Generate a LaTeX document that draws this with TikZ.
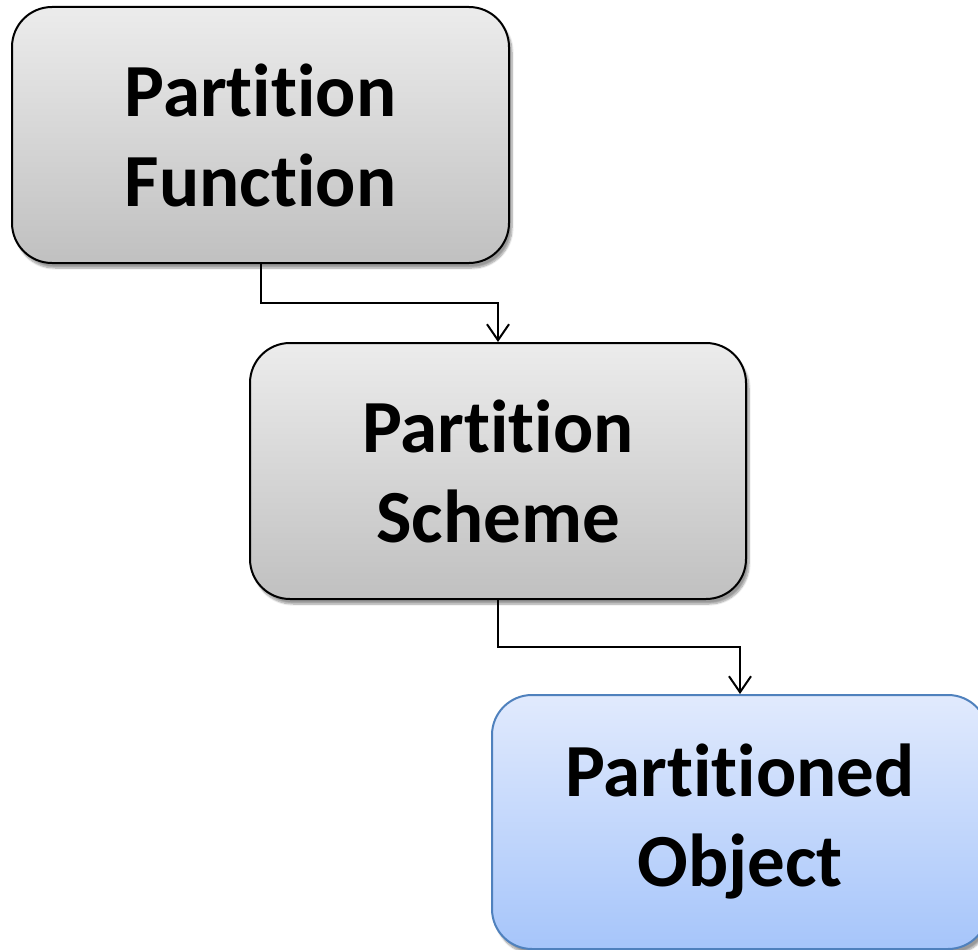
\documentclass[tikz,border=0pt]{standalone}
\usepackage{fontspec}
\setmainfont{Carlito}[Ligatures={NoCommon}]
\usetikzlibrary{arrows.meta,calc,shadows.blur}

\definecolor{graytop}{RGB}{236,236,236}
\definecolor{graybot}{RGB}{192,192,192}
\definecolor{bluetop}{RGB}{225,234,253}
\definecolor{bluebot}{RGB}{166,197,250}
\definecolor{blueedge}{RGB}{79,129,189}

\tikzset{
  stagebox/.style={
    rounded corners=40pt, line width=2pt, align=center,
    font=\fontsize{75pt}{90pt}\selectfont\bfseries,
    inner sep=0pt,
    blur shadow={shadow xshift=3pt, shadow yshift=-5pt, shadow blur steps=8, shadow opacity=40}
  },
  graybox/.style={stagebox, draw=black, top color=graytop, bottom color=graybot},
  bluebox/.style={stagebox, draw=blueedge, top color=bluetop, bottom color=bluebot},
  link/.style={draw=black, line width=2pt, -{Straight Barb[length=16pt,width=22pt,line width=2pt]}}
}

\begin{document}
\begin{tikzpicture}[x=1pt,y=-1pt]
  \useasboundingbox (0,0) rectangle (978,950);
  \clip (0,0) rectangle (978,950);

  \node[graybox, minimum width=497pt, minimum height=256pt] (func) at (260.5,135)
    {Partition\\Function};
  \node[graybox, minimum width=496pt, minimum height=256pt] (scheme) at (498,471)
    {Partition\\Scheme};
  \node[bluebox, minimum width=496pt, minimum height=254pt] (obj) at (740,822)
    {Partitioned\\Object};

  \draw[link] (func.south) |- ($(func.south)!0.5!(scheme.north)$) -| (scheme.north);
  \draw[link] (scheme.south) |- ($(scheme.south)!0.5!(obj.north)$) -| (obj.north);
\end{tikzpicture}
\end{document}
